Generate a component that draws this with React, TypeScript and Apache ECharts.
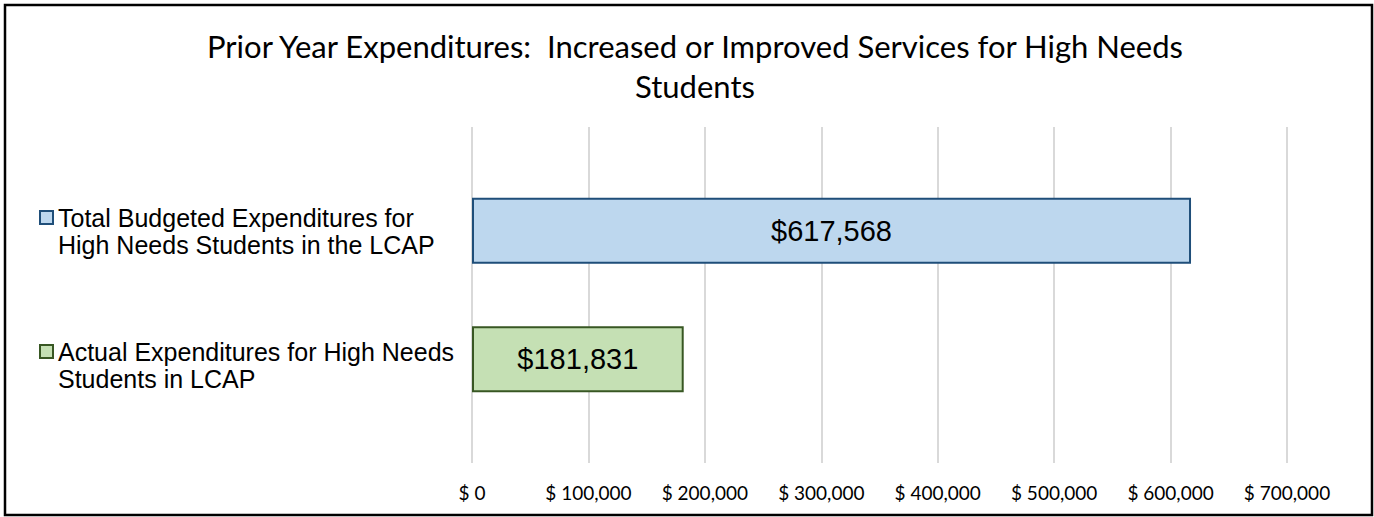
import React, { useEffect, useRef } from "react";
import * as echarts from "echarts";

const titleText = "Prior Year Expenditures:  Increased or Improved Services for High Needs\nStudents";
const categories = [""];
const seriesNames = [
  "Total Budgeted Expenditures for\nHigh Needs Students in the LCAP",
  "Actual Expenditures for High Needs\nStudents in LCAP",
];
const budgetedValues = [617568];
const actualValues = [181831];
const axisMin = 0;
const axisMax = 700000;
const axisInterval = 100000;

const fmtMoney = (v: number) => "$" + v.toLocaleString("en-US");
const fmtTick = (v: number) => "$ " + v.toLocaleString("en-US");

export default function App() {
  const ref = useRef<HTMLDivElement>(null);
  useEffect(() => {
    if (!ref.current) return;
    const chart = echarts.init(ref.current, undefined, { renderer: "svg" });
    const arial = "'Liberation Sans', Arial, sans-serif";
    chart.setOption({
      animation: false,
      backgroundColor: "#ffffff",
      title: {
        text: titleText,
        left: 690,
        top: 21,
        textAlign: "center",
        textStyle: {
          fontFamily: "Lato, sans-serif",
          fontWeight: "normal",
          fontSize: 31,
          lineHeight: 40,
          color: "#000000",
        },
      },
      legend: {
        orient: "vertical",
        left: 34,
        top: 172,
        itemWidth: 13,
        itemHeight: 13,
        itemGap: 53,
        icon: "rect",
        data: seriesNames,
        formatter: (name: string) => "\n" + name,
        textStyle: {
          fontFamily: arial,
          fontSize: 25,
          lineHeight: 27,
          color: "#000000",
        },
      },
      graphic: [
        {
          type: "rect",
          shape: { x: 5, y: 5, width: 1367, height: 510 },
          style: { fill: "none", stroke: "#000000", lineWidth: 2.5 },
          silent: true,
          z: 100,
        },
      ],
      grid: { left: 472, right: 87, top: 127, bottom: 54, containLabel: false },
      xAxis: {
        type: "value",
        min: axisMin,
        max: axisMax,
        interval: axisInterval,
        axisLine: { show: false },
        axisTick: { show: false },
        splitLine: { show: true, lineStyle: { color: "#D9D9D9", width: 2 } },
        axisLabel: {
          formatter: (v: number) => fmtTick(v),
          fontFamily: "Lato, sans-serif",
          fontSize: 19,
          color: "#000000",
          margin: 20,
        },
      },
      yAxis: {
        type: "category",
        data: categories,
        axisLine: { show: false },
        axisTick: { show: false },
        axisLabel: { show: false },
      },
      series: [
        {
          name: seriesNames[0],
          type: "bar",
          data: budgetedValues,
          barWidth: 66,
          barGap: "95%",
          itemStyle: { color: "#BDD7EE", borderColor: "#1F4E79", borderWidth: 2 },
          label: {
            show: true,
            position: "inside",
            formatter: (p: any) => fmtMoney(p.value),
            fontFamily: arial,
            fontSize: 29,
            color: "#000000",
          },
        },
        {
          name: seriesNames[1],
          type: "bar",
          data: actualValues,
          barWidth: 66,
          barGap: "95%",
          itemStyle: { color: "#C5E0B4", borderColor: "#385723", borderWidth: 2 },
          label: {
            show: true,
            position: "inside",
            formatter: (p: any) => fmtMoney(p.value),
            fontFamily: arial,
            fontSize: 29,
            color: "#000000",
          },
        },
      ],
    });
    return () => chart.dispose();
  }, []);
  return (
    <div
      ref={ref}
      style={{ position: "fixed", left: 0, top: 0, width: 1374, height: 517 }}
    />
  );
}
